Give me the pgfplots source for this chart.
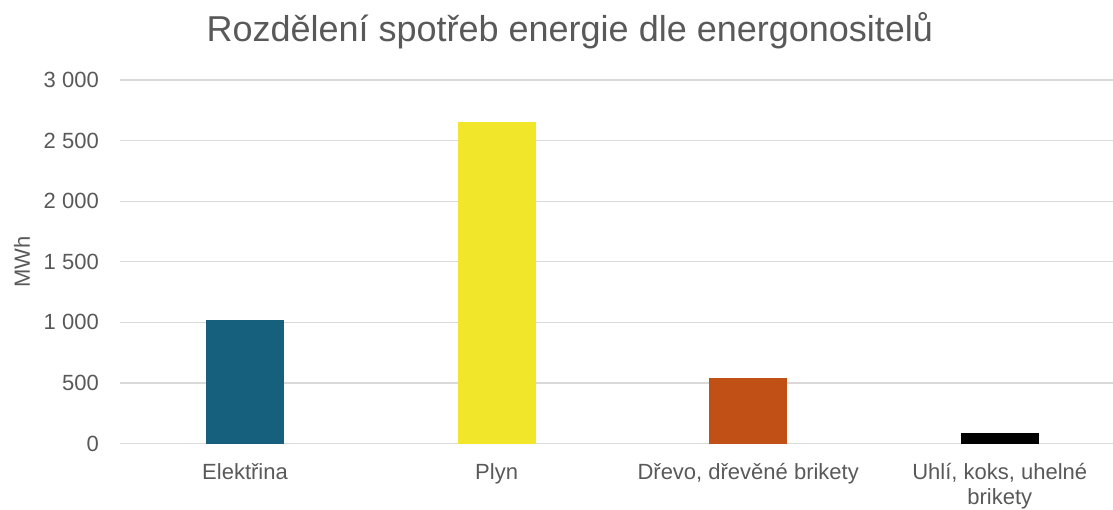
\documentclass[border=0pt]{standalone}
\usepackage{pgfplots}
\pgfplotsset{compat=1.18}
\usepackage{fontspec}
\setmainfont{Liberation Sans}
\definecolor{txt}{HTML}{595959}
\definecolor{grd}{HTML}{D9D9D9}
\definecolor{cEl}{HTML}{17607D}
\definecolor{cPl}{HTML}{F1E62A}
\definecolor{cDr}{HTML}{C05016}
\definecolor{cUh}{HTML}{000000}
\begin{document}
\begin{tikzpicture}
\begin{axis}[
  name=ax,
  at={(0,0)}, anchor=south west,
  scale only axis,
  width=993pt, height=363.5pt,
  xmin=-0.497, xmax=3.45,
  ymin=0, ymax=3000,
  ytick={0,500,...,3000},
  xtick={0,1,2,3},
  xticklabels={Elektřina, Plyn, {Dřevo, dřevěné brikety}, {Uhlí, koks, uhelné\\brikety}},
  ybar, bar width=78pt, bar shift=0pt,
  major tick length=0pt,
  axis x line*=bottom, axis y line*=left,
  x axis line style={grd, line width=1.3pt},
  y axis line style={draw=none},
  ymajorgrids, grid style={grd, line width=1.3pt},
  /pgf/number format/assume math mode=true,
  /pgf/number format/1000 sep={~},
  tick label style={font=\fontsize{22}{24.5}\selectfont, text=txt},
  yticklabel style={inner sep=0pt, xshift=-21pt},
  xticklabel style={align=center, inner sep=0pt, yshift=-20pt},
  ylabel={MWh},
  ylabel style={font=\fontsize{22}{24}\selectfont, text=txt, at={(axis description cs:-0.0987,0.5)}, anchor=center, rotate=0},
  title={Rozdělení spotřeb energie dle energonositelů},
  title style={font=\fontsize{36}{40}\selectfont, text=txt, at={(axis description cs:0.453,1)}, anchor=center, yshift=43pt},
  clip=false,
]
\addplot[fill=cEl, draw=none] coordinates {(0,1021)};
\addplot[fill=cPl, draw=none] coordinates {(1,2651)};
\addplot[fill=cDr, draw=none] coordinates {(2,544)};
\addplot[fill=cUh, draw=none] coordinates {(3,89)};
\end{axis}
\pgfresetboundingbox
\path[use as bounding box] (-120pt,-65.5pt) rectangle (993pt,443.5pt);
\end{tikzpicture}
\end{document}
